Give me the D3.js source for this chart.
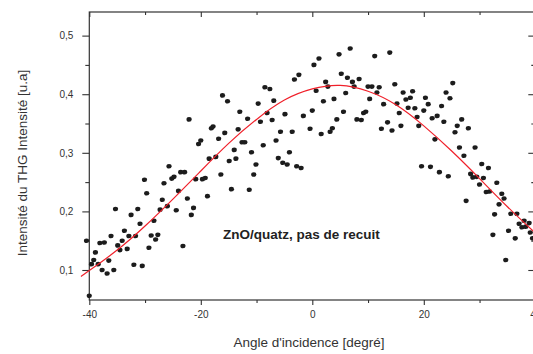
<!DOCTYPE html>
<html>
<head>
<meta charset="utf-8">
<script src="https://cdn.jsdelivr.net/npm/d3@7/dist/d3.min.js"></script>
<style>
  html, body { margin: 0; padding: 0; background: #fff; }
  svg { display: block; }
  text { font-family: "Liberation Sans", Arial, Helvetica, sans-serif; }
</style>
</head>
<body>
<svg id="chart" width="533" height="354"></svg>
<script>
// Measured THG intensity versus angle of incidence (degrees, intensity in a.u.)
const angles = [
  -40.5, -40.0, -39.6, -39.2, -38.9, -38.4, -38.1, -37.7, -37.3, -36.8,
  -36.5, -36.1, -35.6, -35.3, -34.9, -34.5, -34.1, -33.7, -33.2, -32.9,
  -32.5, -32.0, -31.7, -31.3, -30.9, -30.5, -30.1, -29.7, -29.3, -28.9,
  -28.4, -28.1, -27.7, -27.3, -26.9, -26.6, -26.0, -25.7, -25.2, -24.8,
  -24.4, -24.0, -23.6, -23.2, -22.9, -22.4, -22.1, -21.7, -21.3, -20.9,
  -20.4, -20.0, -19.7, -19.2, -18.8, -18.5, -18.1, -17.8, -17.3, -16.8,
  -16.4, -16.1, -15.7, -15.2, -14.9, -14.5, -14.0, -13.7, -13.3, -13.0,
  -12.6, -12.1, -11.6, -11.3, -10.9, -10.5, -10.1, -9.7, -9.3, -8.8,
  -8.5, -8.1, -7.6, -7.2, -6.9, -6.5, -6.1, -5.7, -5.3, -4.9,
  -4.5, -4.1, -3.6, -3.2, -2.8, -2.4, -2.0, -1.6, -0.4, 0.0,
  0.3, 0.7, 1.2, 1.6, 2.0, 2.4, 2.8, 3.2, 3.6, 3.9,
  4.4, 4.8, 5.2, 5.6, 6.0, 6.3, 6.8, 7.2, 7.5, 8.0,
  8.4, 8.8, 9.2, 9.6, 10.0, 10.3, 10.7, 11.2, 11.6, 12.0,
  12.4, 12.8, 13.5, 13.9, 14.3, 14.8, 15.2, 15.6, 15.9, 16.3,
  16.8, 17.2, 17.6, 18.0, 18.4, 18.8, 19.1, 19.6, 20.0, 20.3,
  20.8, 21.2, 21.5, 22.0, 22.4, 22.8, 23.2, 23.6, 24.0, 24.4,
  24.7, 25.2, 25.6, 26.0, 26.4, 26.8, 27.2, 27.6, 28.0, 28.4,
  28.8, 29.2, 29.5, 30.0, 30.4, 30.7, 31.2, 31.6, 31.8, 32.4,
  32.7, 33.1, 33.5, 34.0, 34.4, 34.7, 35.2, 35.6, 36.4, 36.7,
  37.1, 37.6, 38.0, 38.3, 38.9, 39.1, 39.5
];
const intensities = [
  0.150, 0.056, 0.110, 0.117, 0.130, 0.110, 0.146, 0.100, 0.147, 0.094,
  0.116, 0.158, 0.100, 0.204, 0.142, 0.134, 0.150, 0.167, 0.136, 0.158,
  0.194, 0.109, 0.158, 0.204, 0.179, 0.107, 0.254, 0.231, 0.138, 0.159,
  0.184, 0.152, 0.160, 0.203, 0.220, 0.248, 0.209, 0.277, 0.256, 0.259,
  0.202, 0.235, 0.267, 0.141, 0.267, 0.222, 0.357, 0.194, 0.206, 0.255,
  0.315, 0.321, 0.255, 0.257, 0.226, 0.290, 0.342, 0.345, 0.293, 0.324,
  0.263, 0.398, 0.334, 0.388, 0.286, 0.238, 0.305, 0.290, 0.340, 0.370,
  0.318, 0.318, 0.358, 0.237, 0.301, 0.263, 0.280, 0.384, 0.353, 0.313,
  0.412, 0.368, 0.409, 0.356, 0.389, 0.321, 0.291, 0.336, 0.283, 0.366,
  0.280, 0.301, 0.336, 0.425, 0.277, 0.433, 0.274, 0.363, 0.341, 0.372,
  0.450, 0.406, 0.461, 0.332, 0.388, 0.421, 0.413, 0.336, 0.342, 0.392,
  0.357, 0.468, 0.435, 0.370, 0.402, 0.428, 0.478, 0.421, 0.413, 0.357,
  0.426, 0.356, 0.368, 0.370, 0.413, 0.392, 0.413, 0.465, 0.403, 0.412,
  0.341, 0.383, 0.352, 0.471, 0.338, 0.417, 0.384, 0.368, 0.346, 0.403,
  0.391, 0.377, 0.394, 0.405, 0.376, 0.361, 0.346, 0.277, 0.372, 0.394,
  0.383, 0.276, 0.359, 0.323, 0.363, 0.267, 0.380, 0.353, 0.403, 0.260,
  0.393, 0.419, 0.335, 0.346, 0.309, 0.357, 0.295, 0.218, 0.342, 0.264,
  0.258, 0.309, 0.259, 0.246, 0.281, 0.257, 0.233, 0.274, 0.234, 0.160,
  0.195, 0.249, 0.212, 0.230, 0.222, 0.117, 0.167, 0.196, 0.154, 0.196,
  0.179, 0.173, 0.184, 0.174, 0.180, 0.164, 0.154
];

// Fitted curve, sampled along the angle axis
const fitAngles = [-41.5, -40, -35, -30, -25, -20, -15, -10, -5, 0, 5, 10, 15, 20, 25, 30, 35, 40, 41];
const fitValues = [0.089, 0.099, 0.134, 0.175, 0.221, 0.269, 0.316, 0.357, 0.390, 0.409, 0.415, 0.405, 0.382, 0.346, 0.303, 0.256, 0.208, 0.163, 0.154];

// Axis ticks
const xMajor = [-40, -20, 0, 20, 40];
const xMinor = [-30, -10, 10, 30];
const xTickLabels = ["-40", "-20", "0", "20", "40"];
const yMajor = [0.1, 0.2, 0.3, 0.4, 0.5];
const yMinor = [0.15, 0.25, 0.35, 0.45];
const yTickLabels = ["0,1", "0,2", "0,3", "0,4", "0,5"];

const xTitle = "Angle d'incidence [degré]";
const yTitle = "Intensité du THG Intensité [u.a]";
const note = "ZnO/quatz, pas de recuit";

const svg = d3.select("#chart");
const plotL = 89.3, plotR = 535.3, plotT = 12, plotB = 300;

const x = d3.scaleLinear().domain([-40, 40]).range([plotL, plotR]);
const y = d3.scaleLinear().domain([0.0488, 0.5403]).range([plotB, plotT]);

const axisColor = "#333";

function styleAxis(g) {
  g.select(".domain").remove();
  g.selectAll(".tick line").attr("stroke", axisColor).attr("stroke-width", 1.1);
  g.selectAll(".tick text")
    .attr("fill", axisColor)
    .style("font-size", "10px")
    .style("font-family", '"Liberation Sans", Arial, sans-serif');
}

// Bottom axis (ticks outward)
svg.append("g").attr("transform", `translate(0,${plotB})`)
  .call(d3.axisBottom(x).tickValues(xMajor).tickSize(5).tickPadding(6)
    .tickFormat((d, i) => xTickLabels[i]))
  .call(styleAxis);
svg.append("g").attr("transform", `translate(0,${plotB})`)
  .call(d3.axisBottom(x).tickValues(xMinor).tickSize(3).tickFormat(""))
  .call(styleAxis);

// Top axis (ticks inward)
svg.append("g").attr("transform", `translate(0,${plotT})`)
  .call(d3.axisTop(x).tickValues(xMajor).tickSize(-5).tickFormat(""))
  .call(styleAxis);
svg.append("g").attr("transform", `translate(0,${plotT})`)
  .call(d3.axisTop(x).tickValues(xMinor).tickSize(-3).tickFormat(""))
  .call(styleAxis);

// Left axis (ticks outward)
svg.append("g").attr("transform", `translate(${plotL},0)`)
  .call(d3.axisLeft(y).tickValues(yMajor).tickSize(7).tickPadding(9)
    .tickFormat((d, i) => yTickLabels[i]))
  .call(styleAxis);
svg.append("g").attr("transform", `translate(${plotL},0)`)
  .call(d3.axisLeft(y).tickValues(yMinor).tickSize(4).tickFormat(""))
  .call(styleAxis);

// Right axis (ticks inward)
svg.append("g").attr("transform", `translate(${plotR},0)`)
  .call(d3.axisRight(y).tickValues(yMajor).tickSize(-7).tickFormat(""))
  .call(styleAxis);
svg.append("g").attr("transform", `translate(${plotR},0)`)
  .call(d3.axisRight(y).tickValues(yMinor).tickSize(-4).tickFormat(""))
  .call(styleAxis);

// Frame
svg.append("rect")
  .attr("x", plotL).attr("y", plotT)
  .attr("width", plotR - plotL).attr("height", plotB - plotT)
  .attr("fill", "none").attr("stroke", axisColor).attr("stroke-width", 1.2);

// Data points
const pts = angles.map((a, i) => ({ a, v: intensities[i] }));
svg.append("g").selectAll("ellipse").data(pts).join("ellipse")
  .attr("cx", d => x(d.a)).attr("cy", d => y(d.v))
  .attr("rx", 2.6).attr("ry", 2.3)
  .attr("fill", "#1c1c1c");

// Fit curve
const fit = fitAngles.map((a, i) => ({ a, v: fitValues[i] }));
svg.append("path").datum(fit)
  .attr("fill", "none").attr("stroke", "#f0202a").attr("stroke-width", 1.2)
  .attr("d", d3.line().x(d => x(d.a)).y(d => y(d.v)).curve(d3.curveNatural));

// Annotation
svg.append("text")
  .attr("x", 223).attr("y", 238.5)
  .attr("fill", "#222").style("font-size", "13.5px").style("font-weight", "bold")
  .text(note);

// Axis titles
svg.append("text")
  .attr("x", 309).attr("y", 347)
  .attr("text-anchor", "middle")
  .attr("fill", "#333").style("font-size", "13.5px")
  .text(xTitle);

svg.append("text")
  .attr("transform", "translate(27,163) rotate(-90)")
  .attr("text-anchor", "middle")
  .attr("fill", "#333").style("font-size", "13.5px")
  .text(yTitle);
</script>
</body>
</html>
